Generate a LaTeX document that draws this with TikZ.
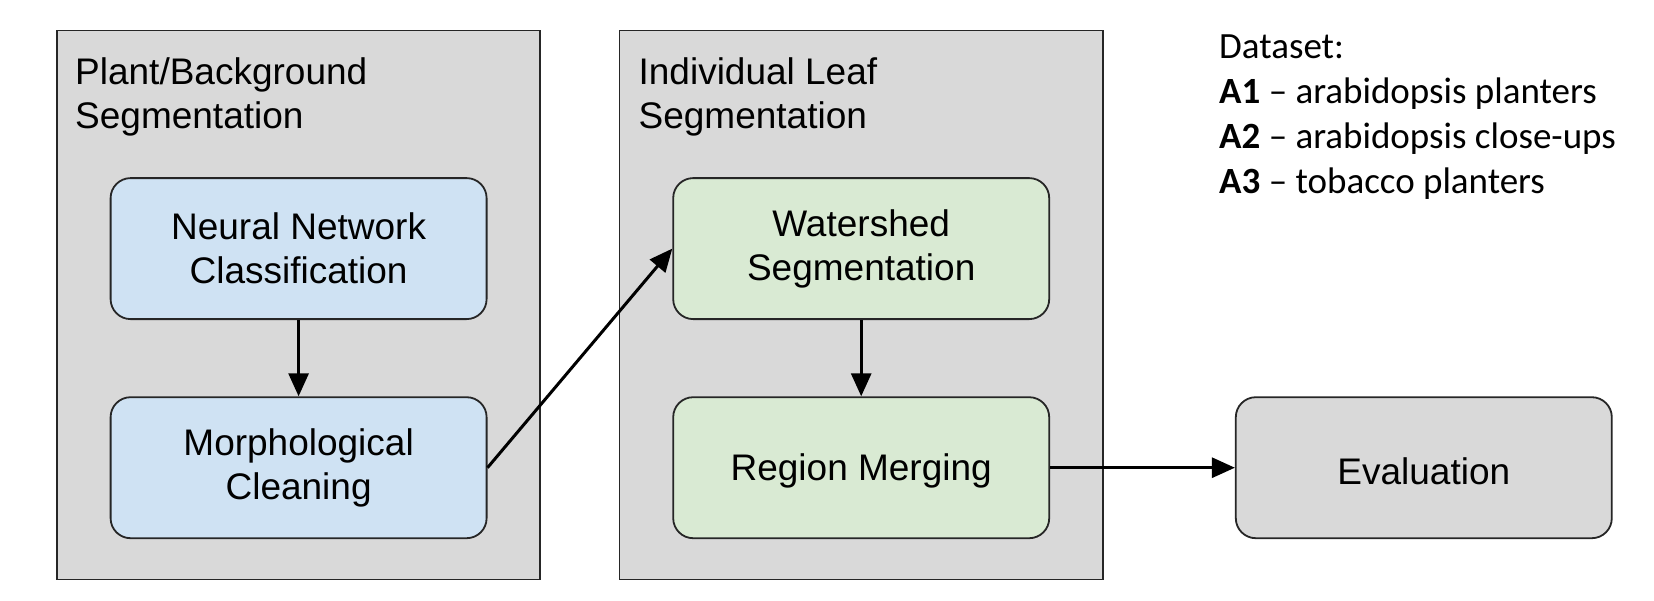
\documentclass[tikz,border=0pt]{standalone}
\usepackage{fontspec}
\setmainfont{Liberation Sans}
\newfontfamily\datafont{Carlito}
\usetikzlibrary{arrows.meta}
\definecolor{panelgray}{HTML}{D9D9D9}
\definecolor{stepblue}{HTML}{CFE2F3}
\definecolor{stepgreen}{HTML}{D9EAD3}
\tikzset{
  panel/.style={draw=black!85, line width=1.8pt, fill=panelgray, rectangle,
    minimum width=483.5pt, minimum height=549pt, inner sep=0pt},
  stepbox/.style={draw=black!85, line width=1.8pt, rounded corners=20pt, rectangle,
    minimum width=376pt, minimum height=141pt, inner sep=0pt, align=center,
    font=\fontsize{37}{44}\selectfont,
    execute at begin node={\rule{0pt}{33.5pt}}},
  paneltitle/.style={anchor=north west, inner sep=0pt, align=left,
    font=\fontsize{37}{44}\selectfont},
  flow/.style={line width=3pt, -{Triangle[length=23pt,width=20pt]}}
}
\begin{document}
\begin{tikzpicture}[x=1pt,y=-1pt]
\useasboundingbox (0,0) rectangle (1654,600);
\node[panel] (p1) at (298.6,305) {};
\node[panel] (p2) at (861.2,305) {};
\node[paneltitle] (t1) at (75,57) {Plant/Background\\Segmentation};
\node[paneltitle] (t2) at (638.4,57) {Individual Leaf\\Segmentation};
\node[stepbox, fill=stepblue] (nn) at (298.6,248.6) {Neural Network\\Classification};
\node[stepbox, fill=stepblue] (mc) at (298.6,467.7) {Morphological\\Cleaning};
\node[stepbox, fill=stepgreen] (ws) at (861.2,248.6) {Watershed\\Segmentation};
\node[stepbox, fill=stepgreen] (rm) at (861.2,467.7) {Region Merging};
\node[stepbox, fill=panelgray] (ev) at (1423.8,467.7) {Evaluation};
\node[anchor=north west, inner sep=0pt, align=left,
  font=\datafont\fontsize{37}{45}\selectfont] (ds) at (1219,35)
  {Dataset:\\\textbf{A1} – arabidopsis planters\\\textbf{A2} – arabidopsis close-ups\\\textbf{A3} – tobacco planters};
\draw[flow] (nn.south) -- (mc.north);
\draw[flow] (mc.east) -- (ws.west);
\draw[flow] (ws.south) -- (rm.north);
\draw[flow] (rm.east) -- (ev.west);
\end{tikzpicture}
\end{document}
